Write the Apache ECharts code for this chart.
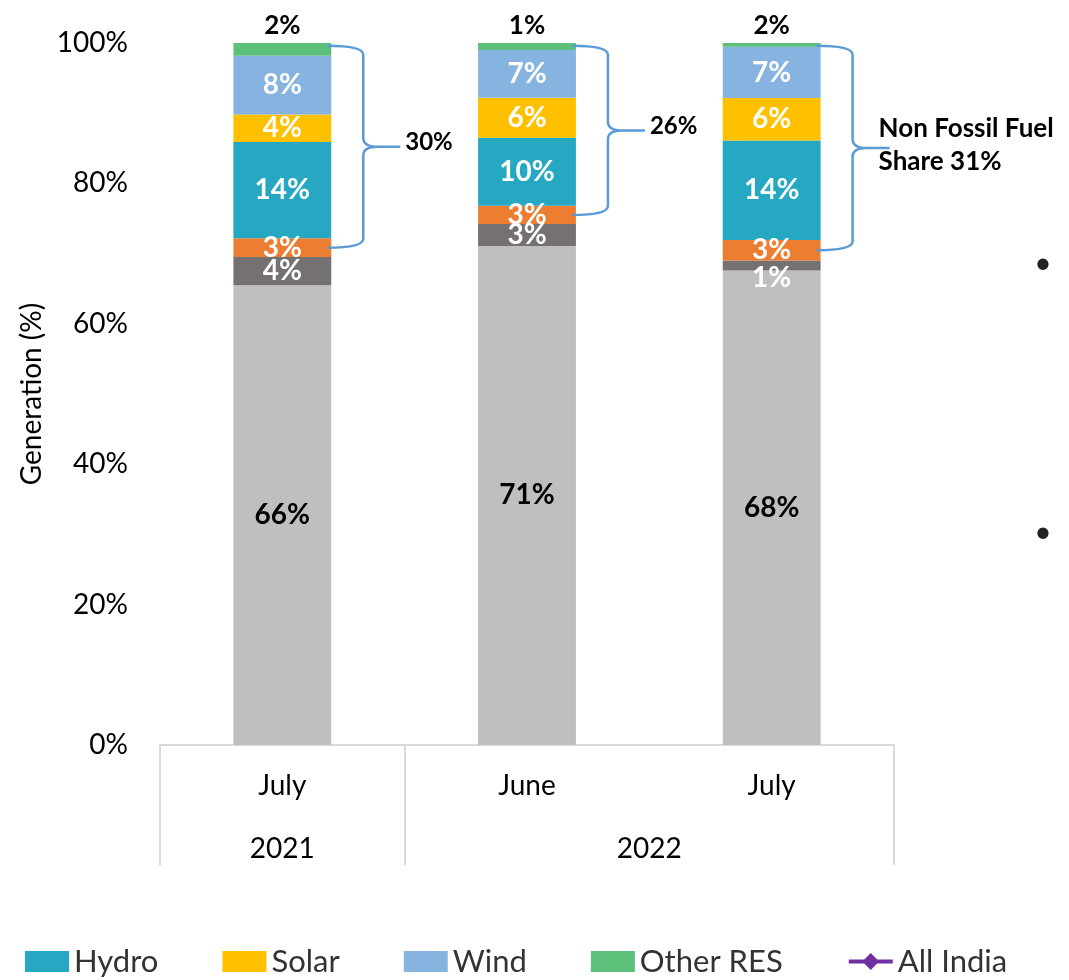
<!DOCTYPE html>
<html><head><meta charset="utf-8">
<script src="https://cdn.jsdelivr.net/npm/echarts@6/dist/echarts.min.js"></script>
<style>html,body{margin:0;padding:0;background:#fff}#c{width:1069px;height:980px}</style>
</head><body><div id="c"></div>
<script>
const categories = ['July', 'June', 'July'];
const years = ['2021', '2022'];
const yearSpans = [[0, 1], [1, 3]];
const coal = [65.5, 71.1, 67.6];
const ligniteGas = [4.0, 3.1, 1.4];
const nuclear = [2.7, 2.6, 2.95];
const hydro = [13.7, 9.7, 14.15];
const solar = [3.9, 5.7, 6.05];
const wind = [8.4, 6.8, 7.3];
const otherRes = [1.8, 1.0, 0.55];
const otherResLabels = ['2%', '1%', '2%'];
const bracketLabels = ['30%', '26%', 'Non Fossil Fuel\nShare 31%'];
const legendNames = ['Hydro', 'Solar', 'Wind', 'Other RES', 'All India'];

const FONT = 'Lato';
const colors = {
  coal: '#BFBFBF', lig: '#767171', nuc: '#ED7D31', hydro: '#26A7C2',
  solar: '#FFC000', wind: '#86B3E0', other: '#5CC07B', india: '#7030A0', brace: '#5B9BD5'
};

const chart = echarts.init(document.getElementById('c'), null, {renderer: 'canvas'});

const whiteLbl = {show: true, position: 'inside', color: '#fff', fontWeight: 'bold', fontSize: 28, fontFamily: FONT,
  formatter: p => Math.round(p.value) + '%'};

function barSeries(name, data, color, label) {
  return {name, type: 'bar', stack: 'gen', data, barWidth: '40%', itemStyle: {color},
    label: label || whiteLbl, emphasis: {disabled: true}};
}

const bracketData = categories.map((c, i) => {
  const total = coal[i] + ligniteGas[i] + nuclear[i] + hydro[i] + solar[i] + wind[i] + otherRes[i];
  return [i, coal[i] + ligniteGas[i] + nuclear[i] / 2, total - 0.4];
});

const option = {
  animation: false,
  grid: {left: 160, right: 175, top: 43, bottom: 235, containLabel: false},
  legend: {
    data: legendNames.map(n => n === 'All India'
      ? {name: n, lineStyle: {width: 4, color: colors.india}, itemStyle: {color: colors.india}}
      : {name: n, icon: 'rect'}),
    left: 20, top: 941, itemWidth: 44, itemHeight: 21, itemGap: 64,
    textStyle: {fontSize: 31, fontFamily: FONT, color: '#333'}
  },
  xAxis: [
    {type: 'category', data: categories,
      axisLine: {show: true, lineStyle: {color: '#d9d9d9', width: 2}},
      axisTick: {show: false},
      axisLabel: {margin: 27, fontSize: 28, fontFamily: FONT, color: '#000'}},
    {type: 'value', min: 0, max: categories.length, position: 'bottom',
      axisLine: {show: false}, splitLine: {show: false},
      axisTick: {show: true, customValues: [0].concat(yearSpans.map(s => s[1])), length: 120,
        lineStyle: {color: '#d9d9d9', width: 2}},
      axisLabel: {show: true, customValues: yearSpans.map(s => (s[0] + s[1]) / 2), margin: 90,
        fontSize: 28, fontFamily: FONT, color: '#000',
        formatter: v => { const k = yearSpans.findIndex(s => (s[0] + s[1]) / 2 === v); return k >= 0 ? years[k] : ''; }}}
  ],
  yAxis: {type: 'value', min: 0, max: 100, interval: 20,
    name: 'Generation (%)', nameLocation: 'middle', nameGap: 114, nameRotate: 90,
    nameTextStyle: {fontSize: 28, fontFamily: FONT, color: '#000'},
    axisLine: {show: false}, axisTick: {show: false}, splitLine: {show: false},
    axisLabel: {formatter: '{value}%', margin: 32, fontSize: 28, fontFamily: FONT, color: '#000'}},
  series: [
    barSeries('Coal', coal, colors.coal, Object.assign({}, whiteLbl, {color: '#000'})),
    barSeries('Lignite & Gas', ligniteGas.map((v, i) => i === 2 ? {value: v, label: {offset: [0, 12]}} : v), colors.lig),
    barSeries('Nuclear', nuclear, colors.nuc),
    barSeries('Hydro', hydro, colors.hydro),
    barSeries('Solar', solar, colors.solar),
    barSeries('Wind', wind, colors.wind),
    barSeries('Other RES', otherRes, colors.other, {show: true, position: 'top', distance: 4, color: '#000',
      fontWeight: 'bold', fontSize: 26, fontFamily: FONT, formatter: p => otherResLabels[p.dataIndex]}),
    {name: 'All India', type: 'line', data: [], color: colors.india, symbol: 'diamond', symbolSize: 10,
      lineStyle: {width: 4, color: colors.india}, itemStyle: {color: colors.india}},
    {name: 'brackets', type: 'custom', clip: false, z: 5, data: bracketData,
      renderItem: (params, api) => {
        const c = api.value(0);
        const lo = api.coord([c, api.value(1)]);
        const hi = api.coord([c, api.value(2)]);
        const band = api.size([1, 0])[0];
        const x0 = lo[0] + band * 0.2 - 4;
        const xv = x0 + 36, xt = x0 + 73;
        const yT = hi[1], yB = lo[1], ym = (yT + yB) / 2, r = 9;
        const d = `M${x0},${yT} Q${xv},${yT} ${xv},${yT + r} L${xv},${ym - r} Q${xv},${ym} ${xv + 14},${ym} L${xt},${ym} ` +
          `M${xv + 14},${ym} Q${xv},${ym} ${xv},${ym + r} L${xv},${yB - r} Q${xv},${yB} ${x0},${yB}`;
        const multi = bracketLabels[params.dataIndex].indexOf('\n') >= 0;
        return {type: 'group', children: [
          {type: 'path', shape: {pathData: d}, style: {stroke: colors.brace, lineWidth: 2.5, fill: null}},
          {type: 'text', x: multi ? xt - 11 : xt + 5, y: ym - (multi ? 3 : 4),
            style: {text: bracketLabels[params.dataIndex], fill: '#000', font: `bold ${multi ? 26 : 24}px ${FONT}`,
              lineHeight: 33, align: 'left', verticalAlign: 'middle'}}
        ]};
      }}
  ],
  graphic: [
    {type: 'text', x: 1043, y: 263, style: {text: '•', fill: '#222', font: `30px ${FONT}`, align: 'center', verticalAlign: 'middle'}},
    {type: 'text', x: 1043, y: 532, style: {text: '•', fill: '#222', font: `30px ${FONT}`, align: 'center', verticalAlign: 'middle'}}
  ]
};
chart.setOption(option);
</script>
</body></html>
